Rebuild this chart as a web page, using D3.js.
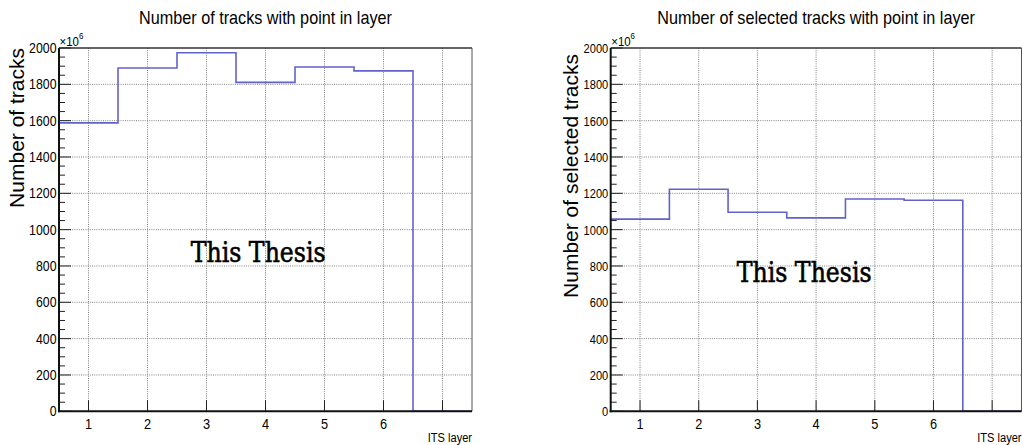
<!DOCTYPE html>
<html>
<head>
<meta charset="utf-8">
<script src="https://cdn.jsdelivr.net/npm/d3@7"></script>
<style>
  html, body { margin: 0; padding: 0; background: #fff; }
  svg { display: block; }
</style>
</head>
<body>
<svg id="chart" width="1022" height="445"></svg>
<script>
// ---- data ----
const layers = [1, 2, 3, 4, 5, 6, 7];
const xTickLabels = ["1", "2", "3", "4", "5", "6"];
const tracksAll = [1588, 1890, 1974, 1811, 1895, 1874, 0];        // x10^6
const tracksSelected = [1058, 1222, 1096, 1065, 1169, 1162, 0];   // x10^6
const yTicks = [0, 200, 400, 600, 800, 1000, 1200, 1400, 1600, 1800, 2000];
const yMinorTicks = d3.range(0, 2001, 50);
const panelTitles = ["Number of tracks with point in layer", "Number of selected tracks with point in layer"];
const yTitles = ["Number of tracks", "Number of selected tracks"];
const xTitle = "ITS layer";
const watermark = "This Thesis";

// ---- layout ----
const panels = [
  { left: 59, right: 472, top: 48, bottom: 411.3, values: tracksAll, title: panelTitles[0], yTitle: yTitles[0],
    yTitleX: 24, yTitleTop: 48, wmX: 190.7, wmY: 261.7, tickSize: 14, tickScale: 0.88 },
  { left: 610.7, right: 1021.5, top: 48, bottom: 411.3, values: tracksSelected, title: panelTitles[1], yTitle: yTitles[1],
    yTitleX: 578, yTitleTop: 54, wmX: 736.7, wmY: 281.7, tickSize: 13.5, tickScale: 0.82 }
];

const svg = d3.select("#chart");
const FONT = "'Liberation Sans', Arial, Helvetica, sans-serif";

function txt(g, x, y, str, size, sx, anchor, rot) {
  return g.append("text")
    .attr("transform", `translate(${x},${y}) rotate(${rot || 0}) scale(${sx},1)`)
    .attr("font-family", FONT)
    .attr("font-size", size)
    .attr("text-anchor", anchor || "start")
    .attr("fill", "#000")
    .text(str);
}

panels.forEach(p => {
  const g = svg.append("g");
  const x = d3.scaleLinear().domain([0.5, 7.5]).range([p.left, p.right]);
  const y = d3.scaleLinear().domain([0, 2000]).range([p.bottom, p.top]);

  // grid (dotted)
  g.append("g").selectAll("line").data(layers).join("line")
    .attr("x1", d => x(d)).attr("x2", d => x(d))
    .attr("y1", p.top).attr("y2", p.bottom)
    .attr("stroke", "#808080").attr("stroke-width", 1).attr("stroke-dasharray", "1,1.2");
  g.append("g").selectAll("line").data(yTicks.filter(d => d > 0 && d < 2000)).join("line")
    .attr("x1", p.left).attr("x2", p.right)
    .attr("y1", d => y(d)).attr("y2", d => y(d))
    .attr("stroke", "#808080").attr("stroke-width", 1).attr("stroke-dasharray", "1,1.2");

  // histogram
  const pts = p.values.map((v, i) => [layers[i] - 0.5, v]);
  pts.push([layers[layers.length - 1] + 0.5, p.values[p.values.length - 1]]);
  const line = d3.line().x(d => x(d[0])).y(d => y(d[1])).curve(d3.curveStepAfter);
  g.append("path").attr("d", line(pts))
    .attr("fill", "none").attr("stroke", "#6262cc").attr("stroke-width", 1.6);

  // frame
  g.append("line").attr("x1", p.left).attr("x2", p.right).attr("y1", p.top).attr("y2", p.top)
    .attr("stroke", "#333").attr("stroke-width", 1.6);
  g.append("line").attr("x1", p.right).attr("x2", p.right).attr("y1", p.top).attr("y2", p.bottom)
    .attr("stroke", "#555").attr("stroke-width", 1);

  // y axis
  const yAx = g.append("g");
  yAx.selectAll("line.minor").data(yMinorTicks.filter(d => d % 200 !== 0)).join("line")
    .attr("x1", p.left).attr("x2", p.left + 6)
    .attr("y1", d => y(d)).attr("y2", d => y(d))
    .attr("stroke", "#222").attr("stroke-width", 1);
  yAx.selectAll("line.major").data(yTicks).join("line")
    .attr("x1", p.left).attr("x2", p.left + 12)
    .attr("y1", d => y(d)).attr("y2", d => y(d))
    .attr("stroke", "#222").attr("stroke-width", 1);
  yAx.append("line").attr("x1", p.left).attr("x2", p.left).attr("y1", p.top).attr("y2", p.bottom + 1)
    .attr("stroke", "#111").attr("stroke-width", 2);
  yTicks.forEach(d => {
    txt(yAx, p.left - 2.5, y(d) + 5, String(d), p.tickSize, p.tickScale, "end");
  });
  // x10^6
  const ex = txt(yAx, p.left + 0.5, p.top - 2.5, "", 13, 0.88, "start");
  ex.append("tspan").text("×10");
  ex.append("tspan").attr("font-size", 9).attr("dy", -7).text("6");

  // x axis
  const xAx = g.append("g");
  xAx.selectAll("line").data(layers).join("line")
    .attr("x1", d => x(d)).attr("x2", d => x(d))
    .attr("y1", p.bottom).attr("y2", p.bottom - 11)
    .attr("stroke", "#222").attr("stroke-width", 1);
  xAx.append("line").attr("x1", p.left - 1).attr("x2", p.right).attr("y1", p.bottom).attr("y2", p.bottom)
    .attr("stroke", "#111").attr("stroke-width", 2);
  xTickLabels.forEach((lab, i) => {
    txt(xAx, x(layers[i]), 429, lab, 15, 0.85, "middle");
  });
  txt(xAx, p.right, 441.5, xTitle, 13.5, 0.82, "end");

  // titles
  txt(g, (p.left + p.right) / 2, 23.5, p.title, 18, 0.9, "middle");
  txt(g, p.yTitleX, p.yTitleTop, p.yTitle, 21, 1.0, "end", -90);

  // watermark
  g.append("text")
    .attr("transform", `translate(${p.wmX},${p.wmY}) scale(0.86,1)`)
    .attr("font-family", "'DejaVu Serif', 'Liberation Serif', serif")
    .attr("font-size", 27.5).attr("fill", "#000")
    .attr("stroke", "#000").attr("stroke-width", 0.6)
    .text(watermark);
});
</script>
</body>
</html>
